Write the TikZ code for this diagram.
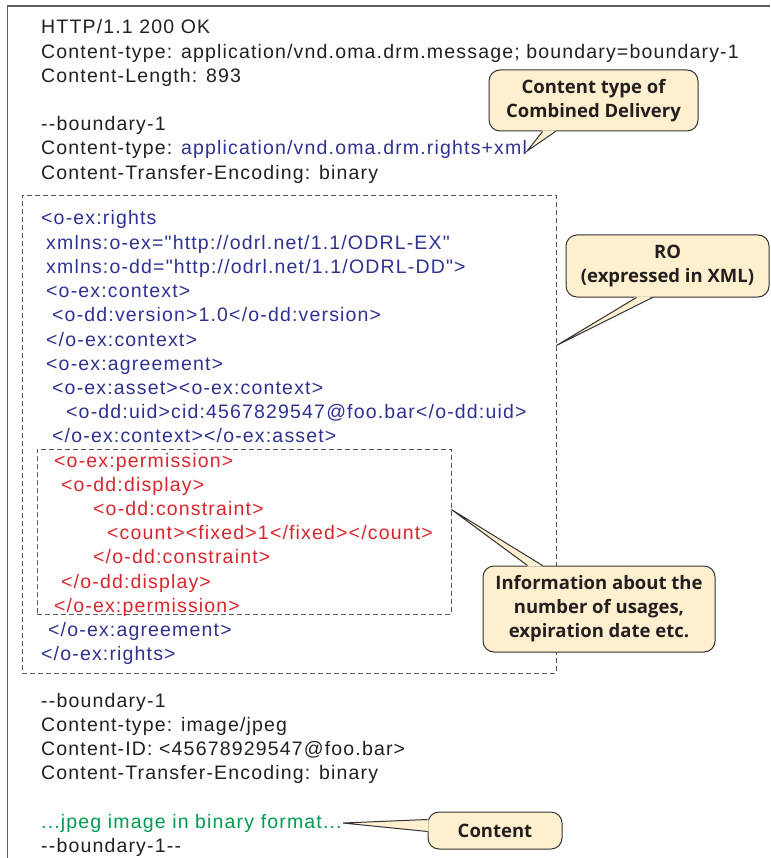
\documentclass[tikz,border=0pt]{standalone}
\usepackage{fontspec}
\newfontfamily\codefont[LetterSpace=6]{Liberation Sans}
\newfontfamily\notefont{Open Sans}
\usetikzlibrary{calc}
\definecolor{xmlblue}{RGB}{46,49,146}
\definecolor{permred}{RGB}{218,37,44}
\definecolor{datagreen}{RGB}{0,155,80}
\definecolor{inkblack}{RGB}{35,31,32}
\definecolor{notefill}{RGB}{254,239,206}
\definecolor{notedraw}{RGB}{50,50,50}
\definecolor{framegray}{RGB}{95,95,95}
\begin{document}
\begin{tikzpicture}[
    x = 1pt, y = -1pt,
    code/.style = {
      anchor = base west,
      inner sep = 0,
      font = \codefont\fontsize{19.5}{24}\selectfont,
      text = inkblack,
    },
    note/.style = {
      rectangle,
      draw = notedraw, line width = 1pt,
      fill = notefill,
      rounded corners = 11pt,
      align = center,
      inner sep = 0,
      font = \notefont\bfseries\fontsize{18.5}{24}\selectfont,
      text = inkblack,
    },
    part/.style = {
      rectangle,
      draw = black!65, line width = .9pt,
      dash pattern = on 5pt off 3pt,
      inner sep = 0,
    },
    tail/.style = {
      draw = notedraw, line width = 1pt,
    },
  ]
  \useasboundingbox (0,0) rectangle (770,858);
  \draw[framegray, line width = 1.8pt] (7.5,858) -- (7.5,6) -- (770,6);

  \node[part, minimum width = 534pt, minimum height = 478pt] (robox) at (289, 434) {};
  \node[part, minimum width = 414pt, minimum height = 165pt] (permbox) at (244, 531.5) {};

  \foreach \txt [count = \i from 0] in {
      {HTTP/1.1 200 OK},
      {Content-type: application/vnd.oma.drm.message; boundary=boundary-1},
      {Content-Length: 893},
      {},
      {--boundary-1},
      {Content-type: \textcolor{xmlblue}{application/vnd.oma.drm.rights+xml}},
      {Content-Transfer-Encoding: binary}}
    \node[code] (head\i) at (41, 34 + 24.2*\i) {\txt};

  \foreach \x/\c/\txt [count = \i from 0] in {
      41/xmlblue/{<o-ex:rights},
      46/xmlblue/{xmlns:o-ex="http://odrl.net/1.1/ODRL-EX"},
      46/xmlblue/{xmlns:o-dd="http://odrl.net/1.1/ODRL-DD">},
      46/xmlblue/{<o-ex:context>},
      52/xmlblue/{<o-dd:version>1.0</o-dd:version>},
      46/xmlblue/{</o-ex:context>},
      46/xmlblue/{<o-ex:agreement>},
      52/xmlblue/{<o-ex:asset><o-ex:context>},
      66/xmlblue/{<o-dd:uid>cid:4567829547@foo.bar</o-dd:uid>},
      52/xmlblue/{</o-ex:context></o-ex:asset>},
      54/permred/{<o-ex:permission>},
      61/permred/{<o-dd:display>},
      93/permred/{<o-dd:constraint>},
      107/permred/{<count><fixed>1</fixed></count>},
      93/permred/{</o-dd:constraint>},
      61/permred/{</o-dd:display>},
      54/permred/{</o-ex:permission>},
      48/xmlblue/{</o-ex:agreement>},
      41/xmlblue/{</o-ex:rights>}}
    \node[code, text = \c] (xml\i) at (\x, 225 + 24.2*\i) {\txt};

  \node[code] (body0) at (41, 707) {--boundary-1};
  \node[code] (body1) at (41, 731.2) {Content-type: image/jpeg};
  \node[code] (body2) at (41, 755.4) {Content-ID: <45678929547@foo.bar>};
  \node[code] (body3) at (41, 779.6) {Content-Transfer-Encoding: binary};
  \node[code, text = datagreen] (jpeg) at (41, 828) {...jpeg image in binary format...};
  \node[code] (body4) at (41, 852.2) {--boundary-1--};

  \node[note, minimum width = 209pt, minimum height = 61pt] (typenote) at (593.5, 100.5) {Content type of\\Combined Delivery};
  \node[note, minimum width = 203pt, minimum height = 62pt] (ronote) at (667.5, 266) {RO\\(expressed in XML)};
  \node[note, minimum width = 232pt, minimum height = 86pt] (infonote) at (599, 609) {Information about the\\number of usages,\\expiration date etc.};
  \node[note, minimum width = 134pt, minimum height = 37pt] (contentnote) at (495, 830.5) {Content};

  \coordinate (typetip) at ([yshift = 4pt]head5.base east);
  \coordinate (rotip) at ([yshift = -151pt]robox.north east);
  \coordinate (infotip) at ([yshift = -61pt]permbox.north east);
  \coordinate (contenttip) at ([xshift = 1pt, yshift = 5pt]jpeg.base east);

  \fill[notefill] ([xshift = 54pt, yshift = 1.2pt]typenote.south west) -- (typetip) -- ([xshift = 67pt, yshift = 1.2pt]typenote.south west) -- cycle;
  \draw[tail] ([xshift = 54pt]typenote.south west) -- (typetip) -- ([xshift = 67pt]typenote.south west);
  \fill[notefill] ([xshift = 71pt, yshift = 1.2pt]ronote.south west) -- (rotip) -- ([xshift = 87pt, yshift = 1.2pt]ronote.south west) -- cycle;
  \draw[tail] ([xshift = 71pt]ronote.south west) -- (rotip) -- ([xshift = 87pt]ronote.south west);
  \fill[notefill] ([xshift = 45pt, yshift = -1.2pt]infonote.north west) -- (infotip) -- ([xshift = 60pt, yshift = -1.2pt]infonote.north west) -- cycle;
  \draw[tail] ([xshift = 45pt]infonote.north west) -- (infotip) -- ([xshift = 60pt]infonote.north west);
  \fill[notefill] ([xshift = 1.2pt, yshift = -8pt]contentnote.north west) -- (contenttip) -- ([xshift = 1.2pt, yshift = -20pt]contentnote.north west) -- cycle;
  \draw[tail] ([yshift = -8pt]contentnote.north west) -- (contenttip) -- ([yshift = -20pt]contentnote.north west);
\end{tikzpicture}
\end{document}
